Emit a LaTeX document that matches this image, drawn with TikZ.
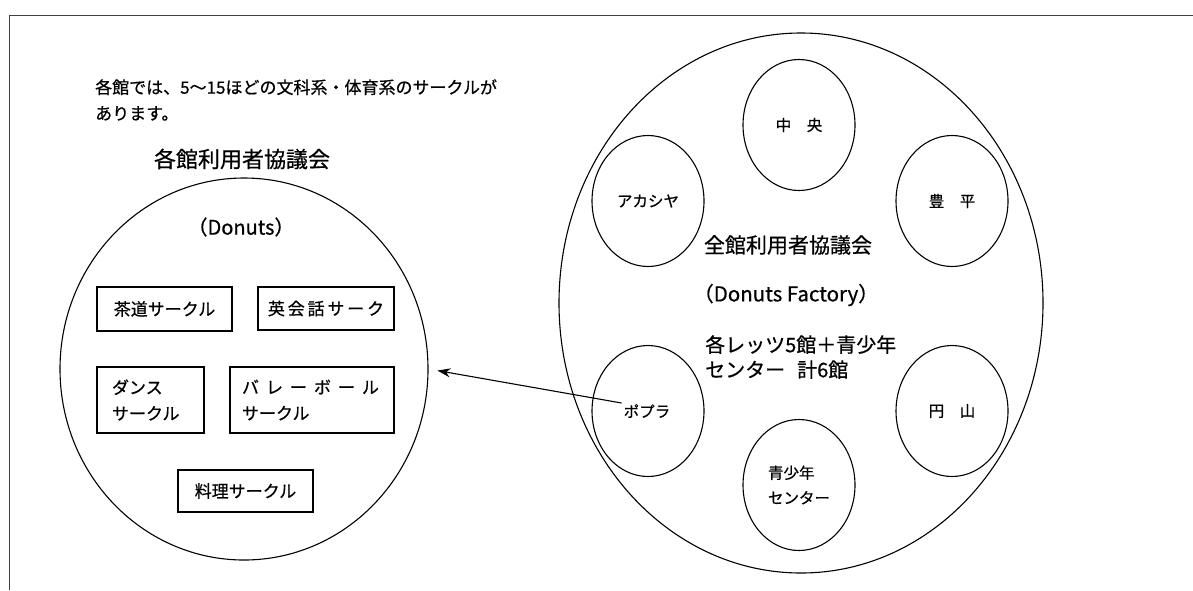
\documentclass[tikz,border=0pt]{standalone}
\usepackage{fontspec}
\setmainfont{Noto Sans CJK JP}[FakeBold=0.6]
\usetikzlibrary{shapes.geometric,arrows.meta,calc}
\begin{document}
\begin{tikzpicture}[x=1pt,y=-1pt,
 bigc/.style={draw, ellipse, inner sep=0pt, line width=1.1pt},
 hall/.style={draw, ellipse, inner sep=0pt, line width=1.1pt, minimum width=112pt, minimum height=131pt, font=\fontsize{15.5}{25}\selectfont, align=left},
 clubbox/.style={draw, rectangle, inner sep=0pt, line width=1.1pt, font=\fontsize{17}{26}\selectfont},
 lbl/.style={inner sep=0pt},
 conn/.style={-{Stealth[length=13pt,width=9pt]}, line width=1.1pt},
]
\useasboundingbox (0,0) rectangle (1193,590);
\fill[white] (0,0) rectangle (1193,590);
% frame
\draw[line width=0.8pt, black!75] (1193,15) -- (9,15) -- (9,590);

% big circles
\node[bigc, minimum width=368pt, minimum height=382pt] (bigL) at (244,369) {};
\node[bigc, minimum width=484pt, minimum height=540pt] (bigR) at (801,303) {};

% texts left
\node[lbl, anchor=west, font=\fontsize{17}{26}\selectfont, align=left] (intro) at (95,100) {各館では、5～15ほどの文科系・体育系のサークルが\\あります。};
\node[lbl, font=\fontsize{22}{26}\selectfont] (titleL) at (242,159) {各館利用者協議会};
\node[lbl, font=\fontsize{20}{20}\selectfont] (donuts) at (241,227) {（Donuts）};

% club boxes
\node[clubbox, minimum width=135pt, minimum height=44pt] (sado) at (164.5,309) {茶道サークル};
\node[clubbox, minimum width=136pt, minimum height=43pt] (eikaiwa) at (326,308.5) {英\,会\,話\,サ\,ー\,ク};
\node[clubbox, inner xsep=15pt, text width=77pt, minimum height=66pt, align=left] (dance) at (150.5,400) {ダンス\\サークル};
\node[clubbox, inner xsep=12pt, text width=140pt, minimum height=66pt, align=left] (volley) at (312,400) {バ\hspace{7pt}レ\hspace{7pt}ー\hspace{7pt}ボ\hspace{7pt}ー\hspace{7pt}ル\\サークル};
\node[clubbox, minimum width=135pt, minimum height=42pt] (ryori) at (245.5,491) {料理サークル};

% halls
\node[hall] (chuo) at (799,125) {中　央};
\node[hall] (akashiya) at (648,201) {アカシヤ};
\node[hall] (toyohira) at (952,201) {豊　平};
\node[hall] (popura) at (648,411) {};
\node[lbl, inner sep=2pt, font=\fontsize{15.5}{20}\selectfont] (popT) at (647,411) {ポプラ};
\node[hall] (maruyama) at (952,411) {円　山};
\node[hall] (seishonen) at (799,485) {青少年\\センター};

% texts right
\node[lbl, font=\fontsize{21}{26}\selectfont] (titleR) at (788,245) {全館利用者協議会};
\node[lbl, font=\fontsize{20.5}{20}\selectfont] (factory) at (786,295) {（Donuts Factory）};
\node[lbl, anchor=west, font=\fontsize{20}{25}\selectfont, align=left] (lets) at (705,357) {各レッツ5館＋青少年\\センター\hspace{0.6em}計6館};

% connector
\coordinate (arrS) at ($(popT.west)+(0,-8)$);
\draw[conn, shorten >=9pt] (arrS) -- (bigL.east);
\end{tikzpicture}
\end{document}
